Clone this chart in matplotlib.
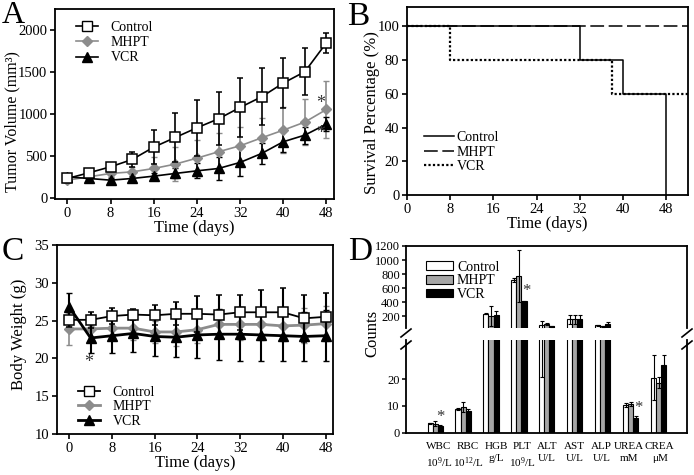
import matplotlib
matplotlib.use('Agg')
import matplotlib.pyplot as plt
import numpy as np
from matplotlib.patches import Patch
from matplotlib.lines import Line2D
from matplotlib.transforms import ScaledTranslation

plt.rcParams['font.family'] = ['Liberation Serif', 'DejaVu Serif']
plt.rcParams['mathtext.fontset'] = 'custom'
plt.rcParams['mathtext.rm'] = 'Liberation Serif'
plt.rcParams['mathtext.it'] = 'Liberation Serif:italic'
plt.rcParams['axes.linewidth'] = 1.3

# ---------------- data ----------------
days = [0, 4, 8, 12, 16, 20, 24, 28, 32, 36, 40, 44, 48]

tv_control = [234, 302, 373, 460, 607, 722, 837, 944, 1079, 1206, 1369, 1504, 1849]
tv_control_err = [25, 25, 30, 92, 200, 286, 330, 314, 353, 338, 301, 278, 119]
tv_mhpt = [214, 254, 294, 313, 353, 405, 476, 552, 623, 718, 809, 905, 1055]
tv_mhpt_err = [20, 30, 40, 60, 140, 206, 214, 218, 226, 230, 270, 273, 338]
tv_vcr = [254, 234, 214, 234, 262, 294, 325, 353, 425, 532, 671, 750, 881]
tv_vcr_err = [20, 20, 20, 30, 40, 60, 90, 140, 166, 127, 127, 100, 87]

surv_control_t = [0, 32, 40, 48]
surv_control_v = [100, 80, 60, 0]
surv_mhpt_t = [0, 52]
surv_mhpt_v = [100, 100]
surv_vcr_t = [0, 8, 38, 52]
surv_vcr_v = [100, 80, 60, 60]

bw_control = [25.1, 25.1, 25.6, 25.8, 25.7, 25.9, 25.9, 25.8, 26.1, 26.1, 26.1, 25.3, 25.5]
bw_control_err = [1.0, 1.1, 1.1, 0.7, 1.3, 1.5, 2.4, 2.6, 2.3, 3.0, 3.2, 3.1, 3.2]
bw_mhpt = [23.9, 23.9, 24.0, 24.0, 23.5, 23.5, 23.8, 24.5, 24.5, 24.5, 24.3, 24.4, 24.6]
bw_mhpt_err = [2.1, 1.5, 1.5, 1.5, 1.5, 1.8, 1.8, 1.8, 2.0, 2.0, 2.0, 2.3, 2.3]
bw_vcr = [26.8, 22.7, 23.0, 23.3, 22.9, 22.8, 23.1, 23.2, 23.2, 23.1, 23.0, 22.9, 23.0]
bw_vcr_err = [1.9, 2.0, 2.3, 2.4, 2.55, 2.6, 3.1, 3.4, 3.6, 3.5, 3.3, 3.2, 3.4]

blood_labels = ['WBC\n10$^{9}$/L', 'RBC\n10$^{12}$/L', 'HGB\ng/L', 'PLT\n10$^{9}$/L',
                'ALT\nU/L', 'AST\nU/L', 'ALP\nU/L', 'UREA\nmM', 'CREA\nμM']
blood_control = [3.4, 8.75, 235, 714, 77, 153, 67, 10.3, 20.5]
blood_control_err = [0.3, 0.4, 8, 33, 56, 60, 8, 0.7, 8.4]
blood_mhpt = [3.3, 9.6, 205, 771, 91, 153, 57, 10.6, 18.7]
blood_mhpt_err = [0.9, 2.0, 140, 365, 15, 60, 6, 0.8, 2.0]
blood_vcr = [2.3, 8.0, 215, 410, 57, 162, 91, 5.5, 25.5]
blood_vcr_err = [0.4, 0.9, 55, 6, 6, 55, 25, 0.8, 3.6]

GREY = '#8c8c8c'
W, H = 694, 475
fig = plt.figure(figsize=(W / 100, H / 100), dpi=100)


def rect(l, t, r, b):
    return [l / W, 1 - b / H, (r - l) / W, (b - t) / H]


def style(ax, fs=10.5):
    ax.tick_params(direction='out', length=3.5, width=1.2, labelsize=fs, pad=2)
    for s in ax.spines.values():
        s.set_linewidth(1.3)


# ---------------- A ----------------
axA = fig.add_axes(rect(55, 9, 334, 199))
axA.errorbar(days, tv_control, yerr=tv_control_err, color='black', marker='s', ms=7,
             mfc='white', mec='black', mew=1.1, lw=1.2, capsize=2.5, elinewidth=1.2,
             zorder=3)
axA.errorbar(days, tv_mhpt, yerr=tv_mhpt_err, color=GREY, marker='D', ms=5,
             mfc=GREY, mec=GREY, lw=1.2, capsize=2.5, elinewidth=1.2, zorder=2)
axA.errorbar(days, tv_vcr, yerr=tv_vcr_err, color='black', marker='^', ms=7,
             mfc='black', mec='black', lw=1.2, capsize=2.5, elinewidth=1.2, zorder=2)
axA.set_xlim(-2.3, 49.4)
axA.set_ylim(-10, 2250)
axA.set_xticks(range(0, 49, 8))
axA.set_yticks(range(0, 2001, 500))
axA.set_xlabel('Time (days)', fontsize=12, labelpad=0)
axA.set_ylabel('Tumor Volume (mm³)', fontsize=11.5)
axA.yaxis.set_label_coords(-0.125, 0.41)
style(axA)
axA.text(46.9, 1131, '*', fontsize=13, ha='center', va='center', color='#333333')
axA.text(46.9, 774, '*', fontsize=13, ha='center', va='center', color='#333333')
hA = [Line2D([], [], color='black', marker='s', ms=7, mfc='white', mec='black', lw=1.2),
      Line2D([], [], color=GREY, marker='D', ms=5, mfc=GREY, mec=GREY, lw=1.2),
      Line2D([], [], color='black', marker='^', ms=7, mfc='black', lw=1.2)]
axA.legend(hA, ['Control', 'MHPT', 'VCR'], loc='upper left', bbox_to_anchor=(0.055, 0.965),
           frameon=False, fontsize=10, handlelength=1.6, handletextpad=0.9,
           labelspacing=0.15, borderaxespad=0)
fig.text(0.002, 0.997, 'A', fontsize=23, ha='left', va='top')

# ---------------- B ----------------
axB = fig.add_axes(rect(407, 7, 688, 195))
axB.step(surv_control_t, surv_control_v, where='post', color='black', lw=1.1, label='Control')
axB.step(surv_mhpt_t, surv_mhpt_v, where='post', color='black', lw=1.1,
         dashes=(9, 3), label='MHPT')
axB.step(surv_vcr_t, surv_vcr_v, where='post', color='black', lw=1.6,
         dashes=(1, 1), label='VCR')
axB.set_xlim(0, 52)
axB.set_ylim(0, 111.5)
axB.set_xticks(range(0, 49, 8))
axB.set_yticks(range(0, 101, 20))
axB.set_xlabel('Time (days)', fontsize=12, labelpad=0)
axB.set_ylabel('Survival Percentage (%)', fontsize=12)
axB.yaxis.set_label_coords(-0.096, 0.44)
style(axB)
axB.legend(loc='upper left', bbox_to_anchor=(0.04, 0.37), frameon=False, fontsize=10,
           handlelength=2.2, handletextpad=0.15, labelspacing=0.12, borderaxespad=0)
fig.text(0.5, 0.997, 'B', fontsize=24, ha='left', va='top')

# ---------------- C ----------------
axC = fig.add_axes(rect(57, 245, 333, 434))
axC.errorbar(days, bw_mhpt, yerr=bw_mhpt_err, color=GREY, marker='D', ms=5,
             mfc=GREY, mec=GREY, lw=2.0, capsize=2.5, elinewidth=1.2, zorder=2)
axC.errorbar(days, bw_vcr, yerr=bw_vcr_err, color='black', marker='^', ms=7,
             mfc='black', mec='black', lw=2.0, capsize=2.5, elinewidth=1.5, zorder=3)
axC.errorbar(days, bw_control, yerr=bw_control_err, color='black', marker='s', ms=7.5,
             mfc='white', mec='black', mew=1.1, lw=1.3, capsize=2.5, elinewidth=1.5, zorder=4)
axC.set_xlim(-2.3, 49.4)
axC.set_ylim(10, 35)
axC.set_xticks(range(0, 49, 8))
axC.set_yticks(range(10, 36, 5))
axC.set_xlabel('Time (days)', fontsize=12, labelpad=0)
axC.set_ylabel('Body Weight (g)', fontsize=12)
axC.yaxis.set_label_coords(-0.109, 0.53)
style(axC)
axC.text(3.7, 19.4, '*', fontsize=13, ha='center', va='center', color='#333333')
hC = [Line2D([], [], color='black', marker='s', ms=7, mfc='white', mec='black', lw=1.3),
      Line2D([], [], color=GREY, marker='D', ms=5, mfc=GREY, mec=GREY, lw=2.0),
      Line2D([], [], color='black', marker='^', ms=7, mfc='black', lw=2.0)]
axC.legend(hC, ['Control', 'MHPT', 'VCR'], loc='upper left', bbox_to_anchor=(0.055, 0.285),
           frameon=False, fontsize=10, handlelength=1.6, handletextpad=0.9,
           labelspacing=0.12, borderaxespad=0)
fig.text(0.002, 0.503, 'C', fontsize=24, ha='left', va='top')

# ---------------- D ----------------
axDt = fig.add_axes(rect(406, 246, 687, 328))
axDb = fig.add_axes(rect(406, 340, 687, 432.5))
x = np.arange(len(blood_labels))
bw = 0.18
TOP_LOW = 30
series = [(blood_control, blood_control_err, 'white', 'Control'),
          (blood_mhpt, blood_mhpt_err, '#a6a6a6', 'MHPT'),
          (blood_vcr, blood_vcr_err, 'black', 'VCR')]
for ax in (axDt, axDb):
    for i, (vals, errs, col, lab) in enumerate(series):
        v = np.array(vals, dtype=float)
        e = np.array(errs, dtype=float)
        if ax is axDt:
            keep = (v + e) > TOP_LOW
            v = np.where(keep, v, np.nan)
            e = np.where(keep, e, np.nan)
        ax.bar(x + (i - 1) * bw, v, bw, yerr=e, color=col, edgecolor='black',
               linewidth=0.8, label=lab,
               error_kw=dict(ecolor='black', elinewidth=0.8, capsize=1.5, capthick=0.8))
    ax.set_xlim(-1.04, 9.01)
    ax.tick_params(direction='out', length=3, width=1.1, labelsize=9, pad=1.5)
    for s in ax.spines.values():
        s.set_linewidth(1.3)

axDt.set_ylim(TOP_LOW, 1200)
axDt.set_yticks(range(200, 1201, 200))
axDt.spines['bottom'].set_visible(False)
axDt.tick_params(axis='x', bottom=False, labelbottom=False)
axDt.text(3.27, 560, '*', fontsize=12, ha='center', va='center', color='#333333')

axDb.set_ylim(0, 34.7)
axDb.set_yticks([0, 10, 20])
axDb.spines['top'].set_visible(False)
axDb.set_xticks(x)
axDb.set_xticklabels(blood_labels, fontsize=8, linespacing=1.35)
axDb.tick_params(axis='x', length=0, pad=7)
label_shift_px = [4, 5, 5, 3, 0, 0, -1, -2, 1]
for lbl, dx in zip(axDb.get_xticklabels(), label_shift_px):
    lbl.set_transform(lbl.get_transform() + ScaledTranslation(dx / 100, 0, fig.dpi_scale_trans))
axDb.text(0.2, 6.0, '*', fontsize=12, ha='center', va='center', color='#333333')
axDb.text(7.27, 9.3, '*', fontsize=12, ha='center', va='center', color='#333333')

# break marks
kw = dict(color='black', lw=1.2, clip_on=False, transform=fig.transFigure)
for xl in (406, 687):
    for yb in (333, 345):
        fig.add_artist(Line2D([(xl - 5) / W, (xl + 5) / W],
                              [1 - (yb + 4) / H, 1 - (yb - 4) / H], **kw))

hD = [Patch(facecolor=c, edgecolor='black', linewidth=0.8) for _, _, c, _ in series]
axDt.legend(hD, ['Control', 'MHPT', 'VCR'], loc='upper left', bbox_to_anchor=(0.053, 0.89),
            frameon=False, fontsize=10, handlelength=1.9, handleheight=0.6,
            handletextpad=0.3, labelspacing=0.05, borderaxespad=0)
fig.text(372 / W, 1 - 333 / H, 'Counts', fontsize=12, rotation=90, ha='center', va='center')
fig.text(0.502, 0.503, 'D', fontsize=24, ha='left', va='top')

fig.savefig('out.png', dpi=100)
